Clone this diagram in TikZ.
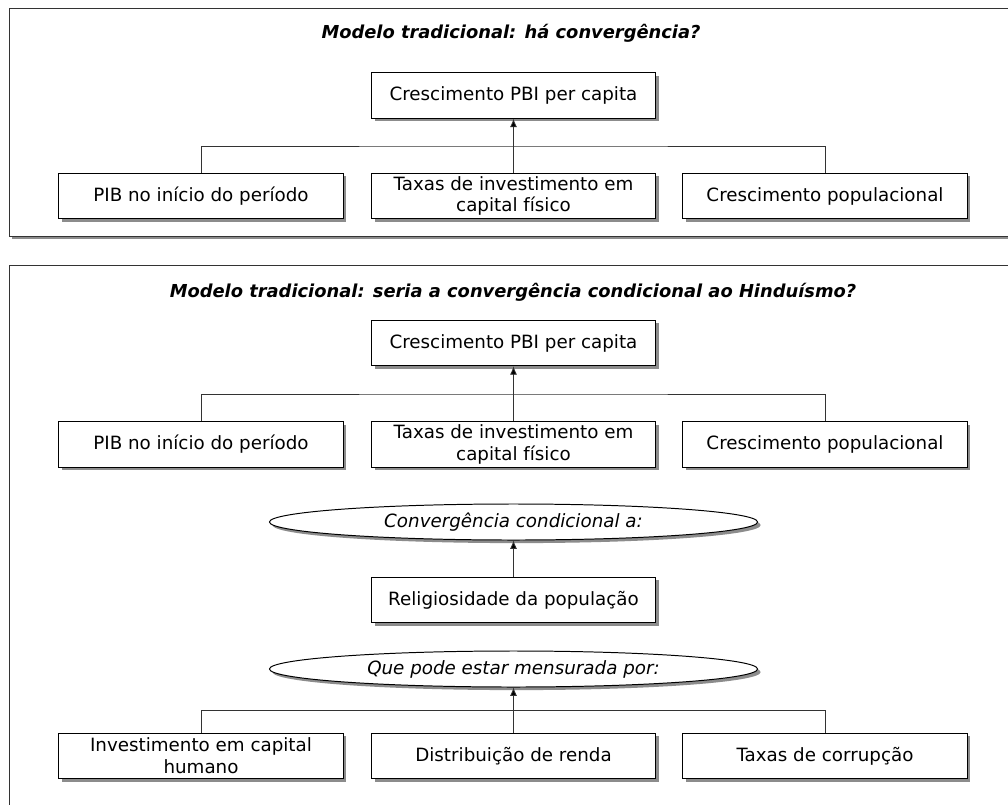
\documentclass[tikz,border=0pt]{standalone}
\usepackage{fontspec}
\setmainfont{DejaVu Sans}
\usetikzlibrary{shapes}
\usetikzlibrary{shadows}
\usetikzlibrary{arrows.meta}

\tikzset{
  shade box/.style={drop shadow={shadow xshift=2.2pt, shadow yshift=-2.2pt, fill=black!45, opacity=1}},
  box/.style={draw, fill=white, line width=0.7pt, minimum width=7.1cm, minimum height=1.14cm,
    inner sep=1pt, align=center, font=\fontsize{13}{15.5}\selectfont, shade box},
  oval/.style={draw, ellipse, fill=white, line width=0.7pt, minimum width=12.2cm, minimum height=0.9cm,
    inner sep=0pt, font=\fontsize{13}{15.5}\selectfont\itshape, shade box},
  panel/.style={draw=black!80, fill=white, line width=0.7pt, shade box},
  heading/.style={font=\fontsize{12.7}{15}\selectfont\bfseries\itshape},
  link/.style={draw=black!80, line width=0.55pt}
}

\begin{document}
\begin{tikzpicture}[x=0.025cm, y=-0.025cm, >={Latex[length=6pt, width=5pt]}]
  \clip (0,0) rectangle (1008,804);
  \fill[white] (0,0) rectangle (1008,804);

  % first panel
  \draw[panel] (9,8) rectangle (1040,236);
  \node[heading] (t1) at (511,33) {Modelo tradicional: há convergência?};
  \node[box] (cr1) at (513.5,95.5) {Crescimento PBI per capita};
  \node[box] (pib1) at (201,196) {PIB no início do período};
  \node[box] (tx1) at (513.5,196) {Taxas de investimento em\\capital físico};
  \node[box] (pop1) at (825,196) {Crescimento populacional};
  \coordinate (j1) at (513.5,146);

  \draw[link] (pib1.north) |- (j1) -| (pop1.north);
  \path[link,->] (tx1) edge (cr1);

  % second panel
  \draw[panel] (9,265) rectangle (1040,840);
  \node[heading] (t2) at (513,292) {Modelo tradicional: seria a convergência condicional ao Hinduísmo?};
  \node[box] (cr2) at (513.5,343) {Crescimento PBI per capita};
  \node[box] (pib2) at (201,444.5) {PIB no início do período};
  \node[box] (tx2) at (513.5,444.5) {Taxas de investimento em\\capital físico};
  \node[box] (pop2) at (825,444.5) {Crescimento populacional};
  \coordinate (j2) at (513.5,394);
  \node[oval] (cc) at (513.5,522) {Convergência condicional a:};
  \node[box] (rel) at (513.5,600) {Religiosidade da população};
  \node[oval] (mp) at (513.5,669) {Que pode estar mensurada por:};
  \node[box] (ich) at (201,756) {Investimento em capital\\humano};
  \node[box] (dr) at (513.5,756) {Distribuição de renda};
  \node[box] (tc) at (825,756) {Taxas de corrupção};
  \coordinate (j3) at (513.5,710);

  \draw[link] (pib2.north) |- (j2) -| (pop2.north);
  \path[link,->] (tx2) edge (cr2);
  \path[link,->] (rel) edge (cc);
  \draw[link] (ich.north) |- (j3) -| (tc.north);
  \path[link,->] (dr) edge (mp);
\end{tikzpicture}
\end{document}
